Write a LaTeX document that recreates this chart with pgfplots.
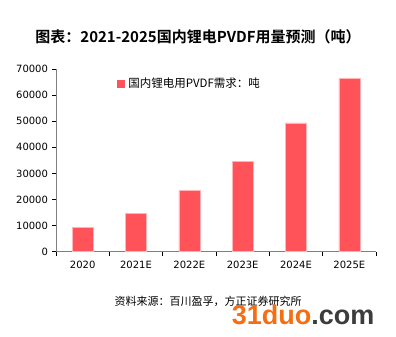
\documentclass[border=0pt]{standalone}
\usepackage{fontspec}
\usepackage{pgfplots}
\pgfplotsset{compat=1.18}
\setmainfont{DejaVu Sans}
\newfontfamily\cjk{Noto Sans CJK SC}
\newfontfamily\cjkb{Noto Sans CJK SC Bold}
\newfontfamily\wm{Liberation Sans}
\definecolor{barred}{RGB}{255,82,89}
\definecolor{baredge}{RGB}{255,180,182}
\definecolor{axgray}{RGB}{128,128,128}
\definecolor{wmorange}{RGB}{245,110,20}
\definecolor{wmgray}{RGB}{60,60,60}
\begin{document}
\begin{tikzpicture}
\useasboundingbox (0,0) rectangle (396pt,337pt);
\begin{axis}[
  at={(56pt,85.3pt)}, anchor=south west,
  scale only axis, width=320pt, height=182.7pt,
  xmin=-0.5, xmax=5.5, ymin=0, ymax=70000,
  axis x line*=bottom, axis y line*=left,
  axis line style={axgray, line width=0.8pt},
  xtick={0,1,2,3,4,5},
  xticklabels={2020,2021E,2022E,2023E,2024E,2025E},
  major x tick style={draw=none},
  minor xtick={-0.5,0.5,1.5,2.5,3.5,4.5,5.5},
  minor x tick style={black, line width=0.6pt},
  minor tick length=4pt,
  ytick={0,10000,...,70000},
  major y tick style={black, line width=0.6pt},
  major tick length=4pt,
  tick align=outside,
  tick label style={font=\fontsize{10}{11}\selectfont, text=black},
  /pgf/number format/assume math mode=true,
  /pgf/number format/1000 sep={},
  scaled y ticks=false,
  xticklabel style={yshift=-2pt},
  yticklabel style={xshift=-0.5pt},
  legend style={draw=none, fill=none, at={(0.18,0.975)}, anchor=north west,
    font=\cjk\fontsize{11.5}{13}\selectfont, legend cell align=left,
    /tikz/every even column/.append style={column sep=0pt}},
  legend image code/.code={\fill[barred] (0pt,-3.5pt) rectangle (7pt,3.5pt);},
  legend style={nodes={inner xsep=4pt}},
]
\addplot[ybar, bar width=21pt, fill=barred, draw=baredge, line width=0.5pt]
  coordinates {(0,9300) (1,14600) (2,23400) (3,34700) (4,49400) (5,66400)};
\addlegendentry{国内锂电用PVDF需求：吨}
\end{axis}
\node[font=\cjkb\fontsize{15}{17}\selectfont] at (198pt,300pt) {图表：2021-2025国内锂电PVDF用量预测（吨）};
\node[font=\cjk\fontsize{11}{12}\selectfont] at (208pt,36pt) {资料来源：百川盈孚，方正证券研究所};
\node[font=\wm\bfseries\fontsize{27}{29}\selectfont, anchor=base east] at (378pt,12pt) {\textcolor{wmorange}{31duo}\textcolor{wmgray}{.com}};
\end{tikzpicture}
\end{document}
